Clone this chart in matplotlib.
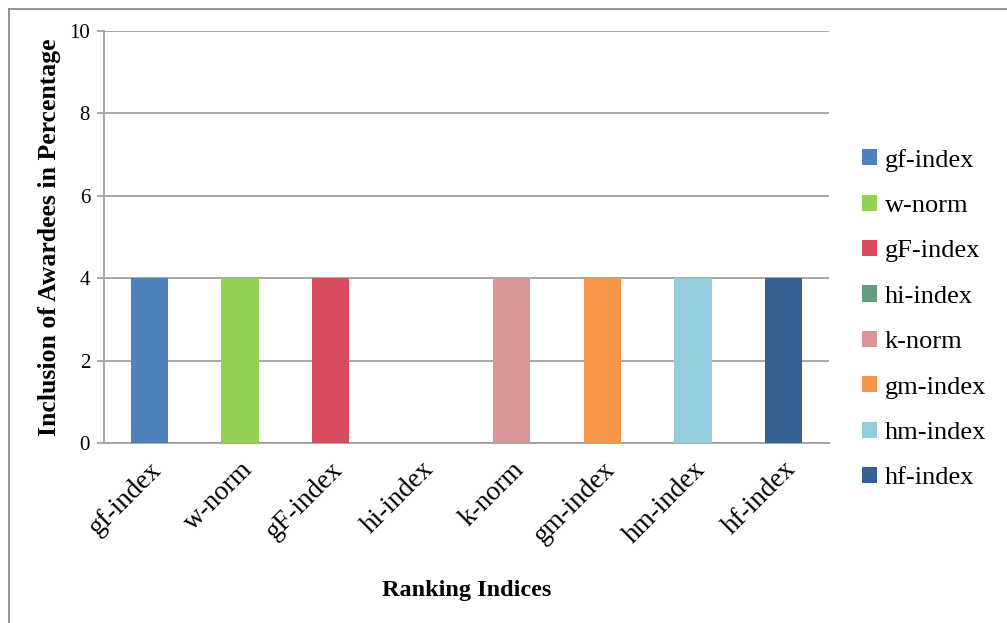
import numpy as np
import matplotlib
matplotlib.use("Agg")
from matplotlib import pyplot as plt
from matplotlib.lines import Line2D
from matplotlib.patches import Patch

plt.rcParams["font.family"] = ["Liberation Serif", "DejaVu Serif"]

indices = ["gf-index", "w-norm", "gF-index", "hi-index", "k-norm",
           "gm-index", "hm-index", "hf-index"]
inclusion = [4, 4, 4, 0, 4, 4, 4, 4]
colors = ["#4F81BD", "#92D050", "#D94C5D", "#629E7D", "#DA9696",
          "#F79646", "#93CDDD", "#376092"]

fig = plt.figure(figsize=(10.07, 6.23), dpi=100)
ax = fig.add_axes([104 / 1007, 1 - 443 / 623, 725 / 1007, 412 / 623])

x = np.arange(len(indices))
ax.bar(x, inclusion, width=0.41, color=colors, zorder=3)

ax.set_xlim(-0.5, len(indices) - 0.5)
ax.set_ylim(0, 10)
ax.set_yticks(range(0, 11, 2))
ax.yaxis.grid(True, color="#a0a0a0", linewidth=1.3, zorder=0)
ax.tick_params(axis="y", length=5, color="#a0a0a0", width=1.3, labelsize=15, pad=5)
ax.tick_params(axis="x", length=0, labelsize=19.5, pad=10)
ax.set_xticks(x)
ax.set_xticklabels(indices, rotation=45, ha="right", rotation_mode="anchor")
for side in ["top", "right"]:
    ax.spines[side].set_visible(False)
for side in ["left", "bottom"]:
    ax.spines[side].set_color("#a0a0a0")
    ax.spines[side].set_linewidth(1.3)

ax.set_ylabel("Inclusion of Awardees in Percentage", fontsize=18.5,
              fontweight="bold", labelpad=6)
ax.set_xlabel("Ranking Indices", fontsize=17.5, fontweight="bold", labelpad=23)

handles = [Patch(facecolor=c, edgecolor="none") for c in colors]
fig.legend(handles, indices, loc="center left",
           bbox_to_anchor=(862 / 1007, 1 - 319 / 623), frameon=False,
           fontsize=19, handlelength=0.57, handleheight=0.57,
           handletextpad=0.3, labelspacing=0.87, borderpad=0, borderaxespad=0)

# outer frame of the chart area
fig.add_artist(Line2D([8.5 / 1007, 1], [1 - 8.5 / 623] * 2, color="#8c8c8c", lw=1.3))
fig.add_artist(Line2D([8.5 / 1007] * 2, [0, 1 - 8.5 / 623], color="#8c8c8c", lw=1.3))

fig.savefig("out.png", dpi=100)
